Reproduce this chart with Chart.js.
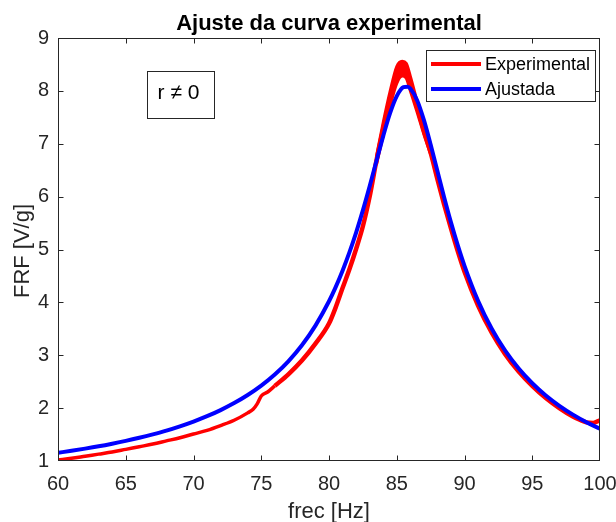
<!DOCTYPE html>
<html><head><meta charset="utf-8">
<script src="https://cdn.jsdelivr.net/npm/chart.js@4/dist/chart.umd.min.js"></script>
<style>html,body{margin:0;padding:0;background:#fff;overflow:hidden}canvas{display:block}</style>
</head><body>
<canvas id="c" width="616" height="522"></canvas>
<script>
const xTicks = [60,65,70,75,80,85,90,95,100];
const yTicks = [1,2,3,4,5,6,7,8,9];
const seriesNames = ['Experimental','Ajustada'];
const titleText = 'Ajuste da curva experimental';
const xLabel = 'frec [Hz]';
const yLabel = 'FRF [V/g]';
const noteText = 'r \u2260 0';

const fitFreq = [60,61,62,63,64,65,66,67,68,69,70,71,72,73,74,75,76,77,78,79,
  80,80.5,81,81.5,82,82.5,83,83.5,84,84.5,85,85.5,85.8,86,86.5,87,87.5,88,88.5,89,89.5,90,
  91,92,93,94,95,96,97,98,99,100];
const fitValues = [1.155,1.193,1.234,1.278,1.327,1.380,1.439,1.504,1.575,1.656,1.746,1.847,1.963,2.095,2.248,2.426,2.636,2.886,3.189,3.561,
  4.021,4.293,4.599,4.940,5.320,5.740,6.195,6.672,7.145,7.574,7.902,8.070,8.080,8.044,7.824,7.451,6.986,6.484,5.984,5.513,5.081,4.690,
  4.029,3.506,3.086,2.748,2.470,2.238,2.043,1.877,1.734,1.610];

const expFreq = [60,61,62,63,64,65,66,67,68,69,70,71,72,73,74,74.4,74.7,75,75.5,76,77,78,79,
  80,80.5,81,81.5,82,82.5,83,83.5,84,84.5,85,85.4,85.7,86,86.5,87,87.5,88,88.5,89,89.5,90,
  91,92,93,94,95,96,97,98,98.5,99,99.5,100];
const expValues = [1.02,1.05,1.09,1.13,1.17,1.22,1.27,1.32,1.38,1.44,1.51,1.58,1.67,1.77,1.91,1.98,2.08,2.23,2.31,2.42,2.64,2.90,3.22,
  3.60,3.91,4.27,4.62,5.01,5.44,6.00,6.68,7.28,7.84,8.30,8.43,8.38,8.14,7.70,7.25,6.83,6.33,5.85,5.40,4.97,4.58,
  3.94,3.43,3.02,2.69,2.42,2.19,2.00,1.84,1.78,1.73,1.72,1.77];

const peakFreq = [83.5,84,84.5,85,85.4,85.7,86,86.5,87,87.5];
const peakUpper = [6.76,7.40,7.98,8.46,8.56,8.52,8.28,7.80,7.32,6.86];
const peakLower = [6.60,7.16,7.70,8.14,8.28,8.24,8.00,7.60,7.18,6.80];

const FONT = '"Liberation Sans", Arial, Helvetica, sans-serif';
const AX = '#262626';
const RED = '#FF0000', BLUE = '#0000FF';
const pts = (xs, ys) => xs.map((x, i) => ({x: x, y: ys[i]}));

const framePlugin = {
  id: 'frame',
  afterDraw(chart) {
    const {ctx, chartArea: a, scales: {x, y}} = chart;
    ctx.save();
    ctx.strokeStyle = AX; ctx.lineWidth = 1;
    const L = Math.round(a.left) + 0.5, R = Math.round(a.right) - 0.5;
    const T = Math.round(a.top) + 0.5, B = Math.round(a.bottom) - 0.5;
    ctx.strokeRect(L, T, R - L, B - T);
    const tl = 5;
    ctx.beginPath();
    xTicks.forEach(v => {
      const px = Math.round(x.getPixelForValue(v)) + 0.5;
      if (px <= L + 1 || px >= R - 1) return;
      ctx.moveTo(px, B); ctx.lineTo(px, B - tl);
      ctx.moveTo(px, T); ctx.lineTo(px, T + tl);
    });
    yTicks.forEach(v => {
      const py = Math.round(y.getPixelForValue(v)) + 0.5;
      if (py <= T + 1 || py >= B - 1) return;
      ctx.moveTo(L, py); ctx.lineTo(L + tl, py);
      ctx.moveTo(R, py); ctx.lineTo(R - tl, py);
    });
    ctx.stroke();

    // titles
    const cx = (a.left + a.right) / 2;
    ctx.fillStyle = '#000';
    ctx.textAlign = 'center';
    ctx.textBaseline = 'alphabetic';
    ctx.font = 'bold 22px ' + FONT;
    ctx.fillText(titleText, cx, 30);
    ctx.fillStyle = AX;
    ctx.font = '22px ' + FONT;
    ctx.fillText(xLabel, cx, 518);
    ctx.save();
    ctx.translate(23, 251);
    ctx.rotate(-Math.PI / 2);
    ctx.textBaseline = 'middle';
    ctx.fillText(yLabel, 0, 0);
    ctx.restore();

    // note box
    ctx.fillStyle = '#fff';
    ctx.fillRect(147.5, 71.5, 67, 47);
    ctx.strokeStyle = AX;
    ctx.strokeRect(147.5, 71.5, 67, 47);
    ctx.fillStyle = '#000';
    ctx.font = '21px ' + FONT;
    ctx.textAlign = 'center';
    ctx.textBaseline = 'middle';
    ctx.fillText(noteText, 178.5, 93);

    // legend
    ctx.fillStyle = '#fff';
    ctx.fillRect(426.5, 50.5, 169, 51);
    ctx.strokeStyle = AX;
    ctx.strokeRect(426.5, 50.5, 169, 51);
    const entries = [
      {name: seriesNames[0], color: RED, y: 64},
      {name: seriesNames[1], color: BLUE, y: 89}
    ];
    ctx.font = '18px ' + FONT;
    ctx.textAlign = 'left';
    ctx.textBaseline = 'middle';
    entries.forEach(e => {
      ctx.strokeStyle = e.color; ctx.lineWidth = 4;
      ctx.beginPath(); ctx.moveTo(431, e.y); ctx.lineTo(481, e.y); ctx.stroke();
      ctx.fillStyle = '#000';
      ctx.fillText(e.name, 485, e.y + 1);
    });
    ctx.restore();
  }
};

new Chart(document.getElementById('c'), {
  type: 'line',
  data: {
    datasets: [
      {label: seriesNames[1], data: pts(fitFreq, fitValues), borderColor: BLUE, borderWidth: 4,
       pointRadius: 0, cubicInterpolationMode: 'monotone', fill: false, order: 0},
      {label: seriesNames[0], data: pts(expFreq, expValues), borderColor: RED, borderWidth: 4,
       segment: {borderWidth: c => (c.p0.parsed.x < 76 ? 3.5 : 4.5)},
       pointRadius: 0, cubicInterpolationMode: 'monotone', fill: false, order: 2},
      {label: seriesNames[0] + ' (min)', data: pts(peakFreq, peakLower), borderColor: RED, borderWidth: 3,
       pointRadius: 0, cubicInterpolationMode: 'monotone', fill: false, order: 1},
      {label: seriesNames[0] + ' (max)', data: pts(peakFreq, peakUpper), borderColor: RED, borderWidth: 3,
       backgroundColor: RED, pointRadius: 0, cubicInterpolationMode: 'monotone', fill: 2, order: 1}
    ]
  },
  options: {
    responsive: false,
    animation: false,
    devicePixelRatio: 1,
    layout: {padding: {top: 38, right: 16, bottom: 0, left: 0}},
    plugins: {legend: {display: false}, tooltip: {enabled: false}, title: {display: false}},
    scales: {
      x: {
        type: 'linear', min: 60, max: 100,
        afterBuildTicks: s => { s.ticks = xTicks.map(v => ({value: v})); },
        afterFit: s => { s.height = 61; s.paddingLeft = 0; s.paddingRight = 0; },
        ticks: {font: {size: 20, family: FONT}, color: AX, padding: 11, maxRotation: 0, autoSkip: false},
        grid: {display: false, drawTicks: false},
        border: {display: false}
      },
      y: {
        type: 'linear', min: 1, max: 9,
        afterBuildTicks: s => { s.ticks = yTicks.map(v => ({value: v})); },
        afterFit: s => { s.width = 58; s.paddingTop = 0; s.paddingBottom = 0; },
        ticks: {font: {size: 20, family: FONT}, color: AX, padding: 9, autoSkip: false},
        grid: {display: false, drawTicks: false},
        border: {display: false}
      }
    }
  },
  plugins: [framePlugin]
});
</script>
</body></html>
